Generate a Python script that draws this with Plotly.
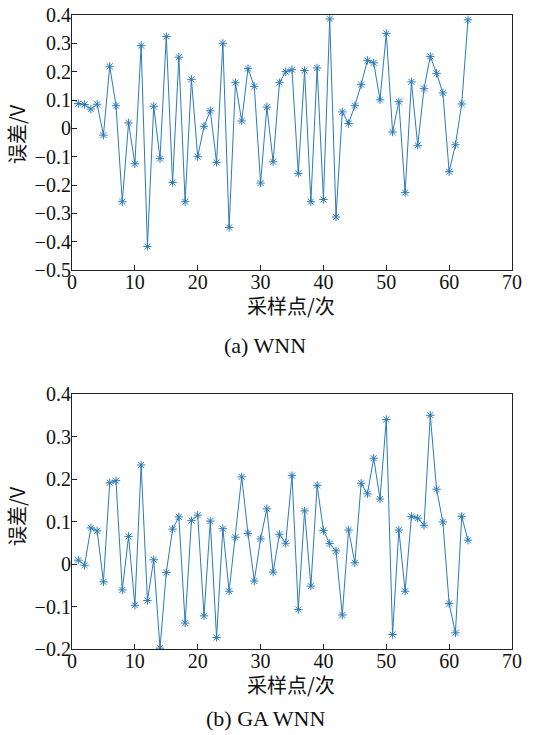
import plotly.graph_objects as go

samples = list(range(1, 64))
err_wnn = [0.087, 0.084, 0.068, 0.085, -0.024, 0.219, 0.080, -0.259, 0.019, -0.125,
           0.292, -0.417, 0.078, -0.107, 0.324, -0.191, 0.251, -0.259, 0.173, -0.100,
           0.007, 0.062, -0.120, 0.300, -0.350, 0.161, 0.026, 0.211, 0.148, -0.193,
           0.075, -0.118, 0.161, 0.200, 0.207, -0.159, 0.204, -0.259, 0.213, -0.251,
           0.386, -0.313, 0.058, 0.017, 0.080, 0.154, 0.240, 0.231, 0.101, 0.335,
           -0.013, 0.094, -0.227, 0.164, -0.060, 0.140, 0.254, 0.194, 0.125, -0.153,
           -0.058, 0.086, 0.383]
err_gawnn = [0.009, -0.003, 0.085, 0.078, -0.042, 0.191, 0.196, -0.061, 0.065, -0.097,
             0.233, -0.086, 0.010, -0.198, -0.020, 0.082, 0.111, -0.139, 0.102, 0.115,
             -0.122, 0.101, -0.173, 0.083, -0.064, 0.063, 0.205, 0.072, -0.040, 0.059,
             0.130, -0.019, 0.070, 0.049, 0.208, -0.107, 0.125, -0.052, 0.185, 0.079,
             0.048, 0.031, -0.120, 0.080, 0.003, 0.190, 0.165, 0.249, 0.153, 0.340,
             -0.166, 0.080, -0.064, 0.112, 0.108, 0.091, 0.350, 0.176, 0.099, -0.093,
             -0.162, 0.112, 0.056]

xticks = [0, 10, 20, 30, 40, 50, 60, 70]
yticks_a = [0.4, 0.3, 0.2, 0.1, 0, -0.1, -0.2, -0.3, -0.4, -0.5]
yticks_b = [0.4, 0.3, 0.2, 0.1, 0, -0.1, -0.2]
x_title = "采样点/次"
y_title = "误差/V"
captions = ["(a) WNN", "(b) GA WNN"]

W, H = 541, 735
color = "#2b7bba"
serif = "Liberation Serif"
cjk = "Noto Sans CJK SC"

def fmt(v):
    return "0" if v == 0 else ("%.1f" % v).replace("-", "\u2212")

fig = go.Figure()
for i, ys in enumerate([err_wnn, err_gawnn]):
    fig.add_trace(go.Scatter(
        x=samples, y=ys, mode="lines+markers",
        line=dict(color=color, width=1),
        marker=dict(symbol="asterisk-open", size=7, color=color,
                    line=dict(color=color, width=1)),
        xaxis="x" if i == 0 else "x2", yaxis="y" if i == 0 else "y2",
        showlegend=False))

def xa(anchor):
    return dict(range=[0, 70], tickvals=xticks, ticktext=[str(t) for t in xticks],
                ticks="inside", ticklen=5, automargin=False, ticklabelstandoff=-6,
                tickcolor="#222", showline=True, linecolor="#222", linewidth=1.2,
                mirror=True, showgrid=False, zeroline=False,
                tickfont=dict(family=serif, size=20, color="#111"),
                domain=[72 / W, 512 / W], anchor=anchor)

def ya(rng, tv, dom, anchor):
    return dict(range=rng, tickvals=tv, ticktext=[fmt(v) for v in tv],
                ticks="inside", ticklen=5, tickcolor="#222", automargin=False,
                ticklabelstandoff=-4,
                showline=True, linecolor="#222", linewidth=1.2, mirror=True,
                showgrid=False, zeroline=False, domain=dom, anchor=anchor,
                tickfont=dict(family=serif, size=20, color="#111"))

fig.update_layout(
    width=W, height=H, margin=dict(l=0, r=0, t=0, b=0),
    plot_bgcolor="white", paper_bgcolor="white",
    xaxis=xa("y"), yaxis=ya([-0.5, 0.4], yticks_a, [1 - 270 / H, 1 - 15 / H], "x"),
    xaxis2=xa("y2"), yaxis2=ya([-0.2, 0.4], yticks_b, [1 - 649 / H, 1 - 394 / H], "x2"),
)

def ann(text, xpx, ypx, font, angle=0):
    fig.add_annotation(text=text, xref="paper", yref="paper", x=xpx / W, y=1 - ypx / H,
                       showarrow=False, xanchor="center", yanchor="middle",
                       textangle=angle, font=font)

for ypx in [305, 684]:
    ann(x_title, 291, ypx, dict(family=cjk, size=20, color="#111"))
for ypx in [134, 516]:
    ann(y_title, 16, ypx, dict(family=cjk, size=20, color="#111"), angle=-90)
for cap, ypx in zip(captions, [345, 718]):
    ann(cap, 265, ypx, dict(family=serif, size=22, color="#111"))

fig.write_html("out.html", config={"displayModeBar": False},
               post_script="document.body.style.margin='0';document.body.style.padding='0';")
